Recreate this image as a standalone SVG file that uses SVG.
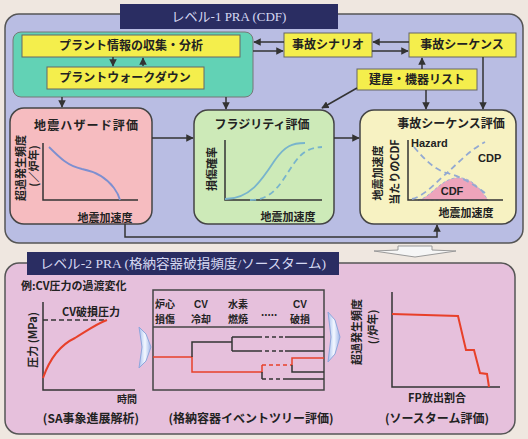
<svg xmlns="http://www.w3.org/2000/svg" width="528" height="439" viewBox="0 0 528 439">
<defs>
<marker id="ah" viewBox="0 0 10 10" refX="9" refY="5" markerWidth="5" markerHeight="5" orient="auto-start-reverse"><path d="M0,0 L10,5 L0,10 z" fill="#333"/></marker>
<linearGradient id="bl" x1="0" y1="0" x2="1" y2="0"><stop offset="0" stop-color="#a8c0ee"/><stop offset="0.5" stop-color="#f4f8ff"/><stop offset="1" stop-color="#9fb4e8"/></linearGradient>
</defs>
<style>
.jp{font-family:"Noto Sans CJK JP","Noto Sans",sans-serif;font-weight:bold;fill:#222}
.t12{font-size:12px}
.t11{font-size:11px}
.t10{font-size:10px}
.ttl{font-family:"Liberation Serif","Noto Sans CJK JP",serif;font-size:13px;fill:#d6d9f2}
.yb{fill:#f4ee4c;stroke:#666;stroke-width:1}
.ln{fill:none;stroke:#333;stroke-width:1.5}
.ax{fill:none;stroke:#333;stroke-width:1.5}
.red{fill:none;stroke:#e8402a;stroke-width:2}
</style>
<rect width="528" height="439" fill="#efe7e0"/>

<!-- Level 1 panel -->
<g id="level1">
<rect x="5" y="14" width="518" height="229" rx="14" fill="#b9bde3" stroke="#555" stroke-width="1.5"/>
<rect x="120" y="4" width="218" height="25" fill="#2a2d62"/>
<text class="ttl" x="229" y="21" text-anchor="middle">レベル-1 PRA (CDF)</text>
</g>

<g id="plant-group">
<rect x="13" y="32" width="240" height="65" rx="8" fill="#62d2b5" stroke="#777" stroke-width="1"/>
</g>
<g id="plant-info">
<rect class="yb" x="22" y="35" width="218" height="22"/>
<text class="jp t12" x="131" y="50" text-anchor="middle">プラント情報の収集・分析</text>
</g>
<g id="walkdown">
<rect class="yb" x="47" y="67" width="157" height="22"/>
<text class="jp t12" x="125" y="82" text-anchor="middle">プラントウォークダウン</text>
</g>
<g id="scenario">
<rect class="yb" x="284" y="33" width="88" height="24"/>
<text class="jp t12" x="328" y="49" text-anchor="middle">事故シナリオ</text>
</g>
<g id="sequence">
<rect class="yb" x="409" y="33" width="107" height="24"/>
<text class="jp t12" x="462" y="49" text-anchor="middle">事故シーケンス</text>
</g>
<g id="equip-list">
<rect class="yb" x="357" y="69" width="120" height="21"/>
<text class="jp t12" x="417" y="84" text-anchor="middle">建屋・機器リスト</text>
</g>

<g id="hazard">
<rect x="10" y="108" width="142" height="116" rx="14" fill="#f6bcc0" stroke="#444" stroke-width="1.5"/>
<text class="jp t12" x="86" y="130" text-anchor="middle" textLength="104">地震ハザード評価</text>
<text class="jp t11" transform="translate(25,168) rotate(-90)" text-anchor="middle">超過発生頻度</text>
<text class="jp t11" transform="translate(38,166) rotate(-90)" text-anchor="middle">(／炉年)</text>
<path class="ax" d="M43,143 V200 H138"/>
<path d="M49,147 C60,158 68,166 82,169 C98,172 108,180 114,188 C117,192 119,196 120,200" fill="none" stroke="#7d8fd0" stroke-width="1.8"/>
<text class="jp t11" x="105" y="222" text-anchor="middle">地震加速度</text>
</g>

<g id="fragility">
<rect x="194" y="110" width="140" height="114" rx="14" fill="#cdeab8" stroke="#444" stroke-width="1.5"/>
<text class="jp t12" x="262" y="129" text-anchor="middle">フラジリティ評価</text>
<text class="jp t11" transform="translate(216,169) rotate(-90)" text-anchor="middle">損傷確率</text>
<path class="ax" d="M225,140 V200 H322"/>
<path d="M225,199 C250,199 262,180 275,160 C285,146 292,143 305,143" fill="none" stroke="#78b4cc" stroke-width="1.8"/>
<path d="M250,200 C275,200 282,180 295,162 C303,151 310,148 322,147" fill="none" stroke="#78b4cc" stroke-width="1.8" stroke-dasharray="6,4"/>
<text class="jp t11" x="288" y="221" text-anchor="middle">地震加速度</text>
</g>

<g id="seq-eval">
<rect x="360" y="110" width="156" height="114" rx="14" fill="#f7f2c2" stroke="#444" stroke-width="1.5"/>
<text class="jp t12" x="451" y="128" text-anchor="middle">事故シーケンス評価</text>
<text class="jp t11" transform="translate(382,173) rotate(-90)" text-anchor="middle">地震加速度</text>
<text class="jp t11" transform="translate(399,172) rotate(-90)" text-anchor="middle">当たりのCDF</text>
<path d="M418,200 C430,198 440,180 455,178 C468,176 478,185 488,200 Z" fill="#eea4bb" stroke="#9fb2d6" stroke-width="1" stroke-dasharray="3,2"/>
<path class="ax" d="M408,140 V200 H503"/>
<path d="M414,147 C425,160 435,170 447,173 C462,177 475,185 485,193" fill="none" stroke="#93a9d2" stroke-width="1.8" stroke-dasharray="6,4"/>
<path d="M412,199 C425,196 438,180 447,173 C458,163 470,150 485,142" fill="none" stroke="#93a9d2" stroke-width="1.8" stroke-dasharray="6,4"/>
<text class="jp t11" x="411" y="147" style="font-family:'Liberation Sans',sans-serif">Hazard</text>
<text class="jp t11" x="478" y="162" style="font-family:'Liberation Sans',sans-serif">CDP</text>
<text class="jp t11" x="452" y="195" text-anchor="middle" style="font-family:'Liberation Sans',sans-serif">CDF</text>
<text class="jp t11" x="466" y="217" text-anchor="middle">地震加速度</text>
</g>

<g id="connectors-top">
<path class="ln" d="M113,57 V66" marker-end="url(#ah)"/>
<path class="ln" d="M143,66 V58" marker-end="url(#ah)"/>
<path class="ln" d="M284,42 H254" marker-end="url(#ah)"/>
<path class="ln" d="M253,51 H283" marker-end="url(#ah)"/>
<path class="ln" d="M409,42 H373" marker-end="url(#ah)"/>
<path class="ln" d="M372,51 H408" marker-end="url(#ah)"/>
<path class="ln" d="M422,69 V58" marker-end="url(#ah)"/>
<path class="ln" d="M357,88 L322,108" marker-end="url(#ah)"/>
<path class="ln" d="M426,90 V109" marker-end="url(#ah)"/>
<path class="ln" d="M483,57 V109" marker-end="url(#ah)"/>
<path class="ln" d="M62,97 V107" marker-end="url(#ah)"/>
<path class="ln" d="M226,97 V109" marker-end="url(#ah)"/>
<path class="ln" d="M152,138 H193" marker-end="url(#ah)"/>
<path class="ln" d="M334,138 H359" marker-end="url(#ah)"/>
<path class="ln" d="M125,224 V237 H437 V225" marker-end="url(#ah)"/>
</g>

<g id="down-arrow">
<polygon points="398,246 432,246 432,250 456,251 415,257 374,251 398,250" fill="#f6f6f6" stroke="#999" stroke-width="1"/>
</g>

<!-- Level 2 panel -->
<g id="level2">
<rect x="5" y="263" width="510" height="171" rx="14" fill="#e6c0dc" stroke="#555" stroke-width="1.5"/>
<rect x="27" y="252" width="312" height="23" fill="#2a2d62"/>
<text class="ttl" x="40" y="268" textLength="286" lengthAdjust="spacingAndGlyphs">レベル-2 PRA (格納容器破損頻度/ソースターム)</text>
</g>

<g id="sa-analysis">
<text class="jp t11" x="21" y="290">例:CV圧力の過渡変化</text>
<text class="jp t11" x="91" y="316" text-anchor="middle">CV破損圧力</text>
<path d="M43,320 H107" fill="none" stroke="#333" stroke-width="1.5" stroke-dasharray="5,3"/>
<path class="ax" d="M43,302 V390 H135"/>
<path class="red" d="M43,378 C50,358 60,345 75,338 C88,330 98,323 107,320"/>
<text class="jp t11" transform="translate(37,340) rotate(-90)" text-anchor="middle">圧力 (MPa)</text>
<text class="jp t10" x="127" y="403" text-anchor="middle">時間</text>
<text class="jp t12" x="91" y="423" text-anchor="middle">(SA事象進展解析)</text>
</g>

<g id="arrow-1">
<polygon points="139,327 146,334 151,347 146,361 139,368 142,347" fill="url(#bl)" stroke="#8fa6dc" stroke-width="1"/>
</g>

<g id="event-tree">
<rect x="153" y="290" width="171" height="100" fill="#e6c0dc" stroke="#444" stroke-width="1.5"/>
<path d="M153,327 H324" stroke="#444" stroke-width="1.5"/>
<text class="jp t10" x="165" y="308" text-anchor="middle">炉心</text>
<text class="jp t10" x="165" y="323" text-anchor="middle">損傷</text>
<text class="jp t10" x="201" y="308" text-anchor="middle" style="font-family:'Liberation Sans',sans-serif">CV</text>
<text class="jp t10" x="201" y="323" text-anchor="middle">冷却</text>
<text class="jp t10" x="238" y="308" text-anchor="middle">水素</text>
<text class="jp t10" x="238" y="323" text-anchor="middle">燃焼</text>
<text class="jp t10" x="269" y="316" text-anchor="middle">.....</text>
<text class="jp t10" x="300" y="308" text-anchor="middle" style="font-family:'Liberation Sans',sans-serif">CV</text>
<text class="jp t10" x="300" y="323" text-anchor="middle">破損</text>
<g fill="none" stroke-width="1.5">
<path d="M153,357 H192 V372 H262 V365" stroke="#e8402a"/>
<path d="M192,357 V342 H232 M232,337 V351" stroke="#333"/>
<path d="M232,337 H258 M285,337 H324 M232,351 H258 M285,351 H324" stroke="#333"/>
<path d="M258,337 H285 M258,351 H285" stroke="#333" stroke-dasharray="4,3"/>
<path d="M262,372 V379 M285,379 H324" stroke="#333"/>
<path d="M262,379 H285" stroke="#333" stroke-dasharray="4,3"/>
<path d="M262,365 H292" stroke="#e8402a" stroke-dasharray="4,3"/>
<path d="M292,365 V358 H324" stroke="#e8402a"/>
<path d="M292,365 V372 H324" stroke="#333"/>
</g>
<text class="jp t12" x="251" y="423" text-anchor="middle">(格納容器イベントツリー評価)</text>
</g>

<g id="arrow-2">
<polygon points="328,312 335,320 340,337 335,354 328,362 331,337" fill="url(#bl)" stroke="#8fa6dc" stroke-width="1"/>
</g>

<g id="source-term">
<text class="jp t11" transform="translate(361,332) rotate(-90)" text-anchor="middle">超過発生頻度</text>
<text class="jp t11" transform="translate(377,327) rotate(-90)" text-anchor="middle">(/炉年)</text>
<path class="ax" d="M392,292 V387 H500"/>
<path class="red" d="M392,314 L458,316 L466,350 L474,350 L480,373 L487,374 L489,387"/>
<text class="jp t11" x="437" y="402" text-anchor="middle">FP放出割合</text>
<text class="jp t12" x="437" y="423" text-anchor="middle">(ソースターム評価)</text>
</g>
</svg>
